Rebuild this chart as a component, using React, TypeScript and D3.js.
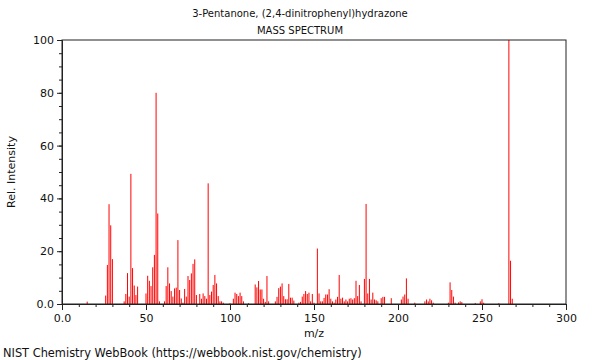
import { useEffect, useRef } from 'react';
import * as d3 from 'd3';

// m/z values and relative intensities
const mzValues = [
  15, 26, 27, 28, 29, 30, 37, 38, 39, 40, 41, 42, 43, 44, 45, 50, 51, 52, 53, 54,
  55, 56, 57, 58, 61, 62, 63, 64, 65, 66, 67, 68, 69, 70, 71, 72, 73, 74, 75, 76,
  77, 78, 79, 80, 82, 83, 84, 85, 86, 87, 88, 89, 90, 91, 92, 93, 94, 95, 96, 100,
  102, 103, 104, 105, 106, 107, 108, 111, 115, 116, 117, 118, 119, 120, 121, 122,
  123, 127, 128, 129, 130, 131, 132, 133, 134, 135, 136, 137, 138, 141, 142, 143,
  144, 145, 146, 147, 148, 149, 150, 152, 153, 154, 155, 156, 157, 158, 159, 160,
  161, 162, 163, 164, 165, 166, 167, 168, 169, 170, 171, 172, 173, 174, 175, 176,
  177, 178, 180, 181, 182, 183, 184, 185, 186, 187, 188, 190, 191, 192, 196, 202,
  203, 204, 205, 206, 210, 216, 217, 218, 219, 220, 221, 230, 231, 232, 233, 234,
  236, 237, 238, 246, 249, 250, 251, 260, 266, 267, 268,
];
const intensities = [
  0.9, 3.2, 14.8, 37.8, 29.8, 17, 1, 3.8, 11.7, 2.8, 49.3, 13.6, 7, 3.4, 6.6, 4, 10.7, 8.8, 6.8, 13.9,
  18.6, 80, 34.3, 1, 1, 6.8, 13.9, 7.8, 4.9, 2.8, 5.9, 6.2, 24.2, 5.3, 2.1, 0.5, 5.7, 2.8, 10.6, 9.1,
  11.6, 15.2, 16.9, 3.4, 3.8, 2, 4, 3, 2, 45.7, 3.4, 4.7, 7.2, 11, 7.8, 3, 1, 1, 0.5, 0.3,
  2, 4.3, 3.8, 3, 4.3, 3, 1, 0.3, 7.4, 6.3, 8.7, 5.5, 5.5, 2, 0.8, 10.6,
  1, 1, 2.7, 6, 6.6, 7.8, 3, 1.8, 1.8, 7.6, 2.4, 2.4, 1.3, 0.5, 0.8, 2.8,
  3.8, 4.9, 3.8, 4.3, 1, 3.8, 0.5, 21, 4, 1, 1, 2.3, 3.6, 3.6, 5.6, 2,
  1, 0.5, 1.7, 2.7, 11, 2, 2.4, 1, 1.7, 1, 2, 2.2, 1.7, 2.2, 8.8, 3,
  7.2, 1, 9.5, 37.9, 4, 9.5, 1.7, 4.3, 1.7, 1.4, 1, 2.2, 2.7, 2.7, 2.2, 1.7,
  2.8, 3.6, 9.7, 2, 0.5, 1, 1.7, 1, 2, 1.4, 0.5, 0.5, 8.2, 5.3, 2.8, 0.5,
  0.6, 1, 0.7, 0.4, 1, 1.8, 0.5, 0.3, 100, 16.4, 2,
];
const xTickValues = [0, 50, 100, 150, 200, 250, 300];
const yTickValues = [0, 20, 40, 60, 80, 100];

const titleLines = ['3-Pentanone, (2,4-dinitrophenyl)hydrazone', 'MASS SPECTRUM'];
const footer = 'NIST Chemistry WebBook (https://webbook.nist.gov/chemistry)';

const App = () => {
  const svgRef = useRef<SVGSVGElement>(null);

  useEffect(() => {
    const svg = d3.select(svgRef.current);
    svg.selectAll('*').remove();

    const left = 62;
    const right = 566;
    const top = 40;
    const bottom = 304;
    const font = '"DejaVu Sans", sans-serif';
    const axisColor = '#222';

    const x = d3.scaleLinear().domain([0, 300]).range([left, right]);
    const y = d3.scaleLinear().domain([0, 100]).range([bottom, top]);
    const fmt = (d: d3.NumberValue) => (+d === 0 ? '0.0' : String(d));

    // titles
    svg
      .selectAll('.title')
      .data(titleLines)
      .enter()
      .append('text')
      .attr('x', 300)
      .attr('y', (_, i) => 17 + i * 17)
      .attr('text-anchor', 'middle')
      .attr('font-family', font)
      .attr('font-size', 10)
      .attr('fill', '#111')
      .text((d) => d);

    // peaks
    svg
      .append('g')
      .selectAll('line')
      .data(mzValues)
      .enter()
      .append('line')
      .attr('x1', (d) => x(d))
      .attr('x2', (d) => x(d))
      .attr('y1', y(0))
      .attr('y2', (_, i) => y(intensities[i]))
      .attr('stroke', '#ff0000')
      .attr('stroke-width', 1);

    // minor ticks
    const xMinor = svg
      .append('g')
      .attr('transform', `translate(0,${bottom})`)
      .call(d3.axisBottom(x).tickValues(d3.range(0, 301, 10)).tickSize(3).tickSizeOuter(0).tickFormat(() => ''));
    const yMinor = svg
      .append('g')
      .attr('transform', `translate(${left},0)`)
      .call(d3.axisLeft(y).tickValues(d3.range(0, 101, 5)).tickSize(3).tickSizeOuter(0).tickFormat(() => ''));

    // major axes
    const xAxis = svg
      .append('g')
      .attr('transform', `translate(0,${bottom})`)
      .call(d3.axisBottom(x).tickValues(xTickValues).tickSize(6).tickSizeOuter(0).tickPadding(4).tickFormat(fmt));
    const yAxis = svg
      .append('g')
      .attr('transform', `translate(${left},0)`)
      .call(d3.axisLeft(y).tickValues(yTickValues).tickSize(5).tickSizeOuter(0).tickPadding(3).tickFormat(fmt));

    [xMinor, yMinor, xAxis, yAxis].forEach((g) => {
      g.selectAll('line').attr('stroke', axisColor);
      g.select('.domain').attr('stroke', axisColor);
      g.selectAll('text').attr('font-family', font).attr('font-size', 11).attr('fill', '#111');
    });

    // frame
    svg
      .append('rect')
      .attr('x', left)
      .attr('y', top)
      .attr('width', right - left)
      .attr('height', bottom - top)
      .attr('fill', 'none')
      .attr('stroke', axisColor);

    // axis titles
    svg
      .append('text')
      .attr('x', (left + right) / 2)
      .attr('y', 337)
      .attr('text-anchor', 'middle')
      .attr('font-family', font)
      .attr('font-size', 11)
      .attr('fill', '#111')
      .text('m/z');

    svg
      .append('text')
      .attr('transform', `translate(15,${(top + bottom) / 2}) rotate(-90)`)
      .attr('text-anchor', 'middle')
      .attr('font-family', font)
      .attr('font-size', 11)
      .attr('fill', '#111')
      .text('Rel. Intensity');

    svg
      .append('text')
      .attr('x', 3)
      .attr('y', 357)
      .attr('font-family', font)
      .attr('font-size', 11.4)
      .attr('fill', '#111')
      .text(footer);
  }, []);

  return (
    <svg
      ref={svgRef}
      width={600}
      height={360}
      style={{ position: 'absolute', left: 0, top: 0, background: '#fff' }}
    />
  );
};

export default App;
